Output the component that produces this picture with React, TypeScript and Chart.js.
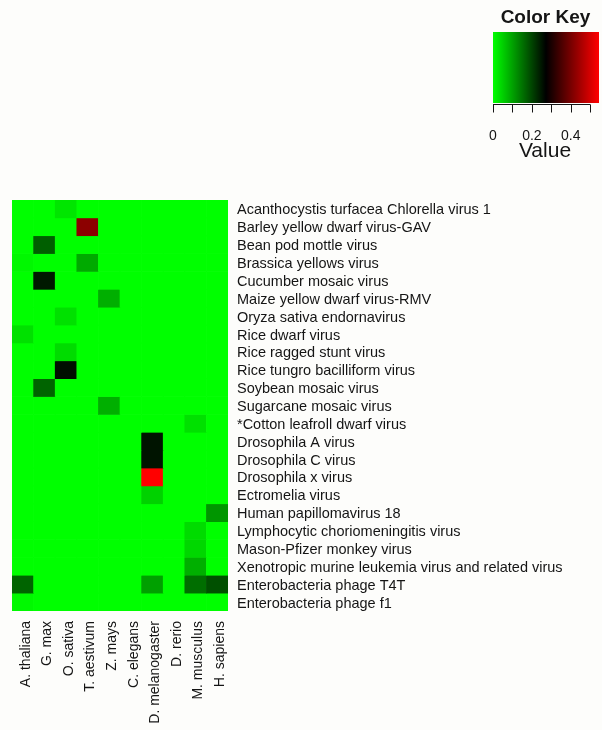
import React, { useEffect, useRef } from 'react';
import { Chart, registerables } from 'chart.js';

Chart.register(...registerables);

const species = [
  'A. thaliana', 'G. max', 'O. sativa', 'T. aestivum', 'Z. mays',
  'C. elegans', 'D. melanogaster', 'D. rerio', 'M. musculus', 'H. sapiens',
];

const viruses = [
  'Acanthocystis turfacea Chlorella virus 1',
  'Barley yellow dwarf virus-GAV',
  'Bean pod mottle virus',
  'Brassica yellows virus',
  'Cucumber mosaic virus',
  'Maize yellow dwarf virus-RMV',
  'Oryza sativa endornavirus',
  'Rice dwarf virus',
  'Rice ragged stunt virus',
  'Rice tungro bacilliform virus',
  'Soybean mosaic virus',
  'Sugarcane mosaic virus',
  '*Cotton leafroll dwarf virus',
  'Drosophila A virus',
  'Drosophila C virus',
  'Drosophila x virus',
  'Ectromelia virus',
  'Human papillomavirus 18',
  'Lymphocytic choriomeningitis virus',
  'Mason-Pfizer monkey virus',
  'Xenotropic murine leukemia virus and related virus',
  'Enterobacteria phage T4T',
  'Enterobacteria phage f1',
];

// rows follow viruses, columns follow species
const values: number[][] = [
  [0, 0, 0.027, 0, 0, 0, 0, 0, 0, 0],
  [0, 0, 0, 0.422, 0, 0, 0, 0, 0, 0],
  [0, 0.171, 0, 0, 0, 0, 0, 0, 0, 0],
  [0.008, 0, 0, 0.091, 0, 0, 0, 0, 0, 0],
  [0, 0.246, 0, 0, 0, 0, 0, 0, 0, 0],
  [0, 0, 0, 0, 0.086, 0, 0, 0, 0, 0],
  [0, 0, 0.032, 0, 0, 0, 0, 0, 0, 0],
  [0.032, 0, 0, 0, 0, 0, 0, 0, 0, 0],
  [0, 0, 0.037, 0, 0, 0, 0, 0, 0, 0],
  [0, 0, 0.257, 0, 0, 0, 0, 0, 0, 0],
  [0, 0.166, 0, 0, 0, 0, 0, 0, 0, 0],
  [0, 0, 0, 0, 0.086, 0, 0, 0, 0, 0],
  [0, 0, 0, 0, 0, 0, 0, 0, 0.032, 0],
  [0, 0, 0, 0, 0, 0, 0.251, 0, 0, 0],
  [0, 0, 0, 0, 0, 0, 0.251, 0, 0, 0],
  [0, 0, 0, 0, 0, 0, 0.545, 0, 0, 0],
  [0, 0, 0, 0, 0, 0, 0.048, 0, 0, 0],
  [0, 0, 0, 0, 0, 0, 0, 0, 0, 0.112],
  [0, 0, 0, 0, 0, 0, 0, 0, 0.037, 0],
  [0, 0, 0, 0, 0, 0, 0, 0, 0.043, 0],
  [0, 0, 0, 0, 0, 0, 0, 0, 0.086, 0],
  [0.166, 0, 0, 0, 0, 0, 0.102, 0, 0.155, 0.187],
  [0.006, 0, 0, 0, 0, 0, 0, 0, 0, 0],
];

const keyMax = 0.545;
const keyTicks = [0, 0.1, 0.2, 0.3, 0.4, 0.5];
const keyLabels = [0, 0.2, 0.4];

const FONT = '"Liberation Sans", Arial, sans-serif';
const TEXT = '#151515';
const BG = '#fdfdfb';

function colorFor(v: number): string {
  const t = Math.max(0, Math.min(1, v / keyMax));
  if (t <= 0.5) {
    const g = Math.round(255 * (1 - t / 0.5));
    return `rgb(0,${g},0)`;
  }
  const r = Math.round(255 * ((t - 0.5) / 0.5));
  return `rgb(${r},0,0)`;
}

const bgPlugin = {
  id: 'bg',
  beforeDraw(chart: any) {
    const ctx = chart.ctx;
    ctx.save();
    ctx.fillStyle = BG;
    ctx.fillRect(0, 0, chart.width, chart.height);
    ctx.restore();
  },
};

const keyPlugin = {
  id: 'colorKey',
  afterDraw(chart: any) {
    const ctx = chart.ctx as CanvasRenderingContext2D;
    const x0 = 493;
    const x1 = 599;
    const y0 = 32;
    const y1 = 103;
    const px = (v: number) => x0 + (v / keyMax) * (x1 - x0);
    ctx.save();
    const grad = ctx.createLinearGradient(x0, 0, x1, 0);
    grad.addColorStop(0, colorFor(0));
    grad.addColorStop(0.5, colorFor(keyMax / 2));
    grad.addColorStop(1, colorFor(keyMax));
    ctx.fillStyle = grad;
    ctx.fillRect(x0, y0, x1 - x0, y1 - y0);
    // axis
    ctx.strokeStyle = TEXT;
    ctx.lineWidth = 1;
    ctx.beginPath();
    ctx.moveTo(px(keyTicks[0]), 104.5);
    ctx.lineTo(px(keyTicks[keyTicks.length - 1]), 104.5);
    for (const t of keyTicks) {
      const x = Math.round(px(t)) + 0.5;
      ctx.moveTo(x, 104.5);
      ctx.lineTo(x, 112.5);
    }
    ctx.stroke();
    ctx.fillStyle = TEXT;
    ctx.textAlign = 'center';
    ctx.textBaseline = 'alphabetic';
    ctx.font = `14px ${FONT}`;
    for (const l of keyLabels) {
      ctx.fillText(String(l), px(l), 139.5);
    }
    ctx.font = `21px ${FONT}`;
    ctx.fillText('Value', 545, 156.5);
    ctx.font = `bold 19px ${FONT}`;
    ctx.fillText('Color Key', 545.5, 23);
    ctx.restore();
  },
};

export default function App() {
  const ref = useRef<HTMLCanvasElement | null>(null);

  useEffect(() => {
    if (!ref.current) return;
    const datasets = viruses.map((name, r) => ({
      label: name,
      data: species.map(() => [r, r + 1]),
      backgroundColor: values[r].map(colorFor),
      borderWidth: 0,
      barPercentage: 1,
      categoryPercentage: 1,
      grouped: false,
    }));

    const chart = new Chart(ref.current, {
      type: 'bar',
      data: { labels: species, datasets: datasets as any },
      options: {
        animation: false,
        responsive: false,
        events: [],
        layout: { padding: { left: 12, top: 200, right: 0, bottom: 0 } },
        plugins: { legend: { display: false }, tooltip: { enabled: false } },
        scales: {
          x: {
            type: 'category',
            grid: { display: false, drawTicks: false },
            border: { display: false },
            ticks: {
              minRotation: 90,
              maxRotation: 90,
              autoSkip: false,
              padding: 10,
              labelOffset: 3,
              color: TEXT,
              font: { family: FONT, size: 14 },
            },
            afterFit: (s: any) => { s.height = 119; },
          },
          y: {
            type: 'linear',
            position: 'right',
            reverse: true,
            min: 0,
            max: viruses.length,
            grid: { display: false, drawTicks: false },
            border: { display: false },
            ticks: {
              autoSkip: false,
              padding: 9,
              labelOffset: 1.5,
              color: TEXT,
              font: { family: FONT, size: 14.5 },
              callback: (_v: any, i: number) => viruses[i],
            },
            afterBuildTicks: (s: any) => {
              s.ticks = viruses.map((_, i) => ({ value: i + 0.5 }));
            },
            afterFit: (s: any) => { s.width = 374; },
          },
        },
      },
      plugins: [bgPlugin, keyPlugin],
    });
    return () => chart.destroy();
  }, []);

  return (
    <div style={{ position: 'absolute', left: 0, top: 0, width: 602, height: 730, background: BG }}>
      <canvas ref={ref} width={602} height={730} style={{ display: 'block', width: 602, height: 730 }} />
    </div>
  );
}
